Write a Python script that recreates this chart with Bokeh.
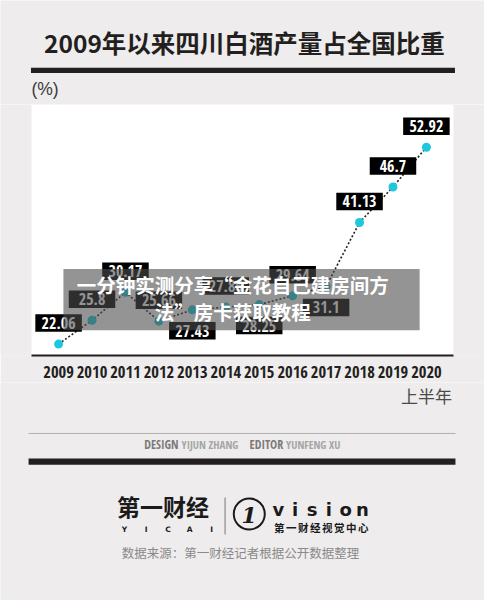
from bokeh.plotting import figure
from bokeh.models import Range1d, Label, FixedTicker, BoxAnnotation
from bokeh.layouts import column
from bokeh.embed import file_html
from bokeh.resources import INLINE
from bokeh.core.properties import value

# ---------------- data ----------------
years = [2009, 2010, 2011, 2012, 2013, 2014, 2015, 2016, 2017, 2018, 2019, 2020]
year_ticks = ["2009", "2010", "2011", "2012", "2013", "2014", "2015", "2016",
              "2017", "2018", "2019", "2020"]
share = [22.06, 25.8, 30.17, 25.66, 27.43, 27.86, 28.25, 29.64, 31.1, 41.13, 46.7, 52.92]
share_labels = ["22.06", "25.8", "30.17", "25.66", "27.43", "27.86", "28.25", "29.64",
                "31.1", "41.13", "46.7", "52.92"]
label_side = [1, 1, 1, 1, -1, 1, -1, 1, -1, 1, 1, 1]   # 1 = box above point, -1 = below

title_text = "2009年以来四川白酒产量占全国比重"
unit_text = "(%)"
last_tick_note = "上半年"
banner_lines = ["一分钟实测分享“金花自己建房间方", "法”房卡获取教程"]
credit_roles = ["DESIGN", "EDITOR"]
credit_names = ["YIJUN ZHANG", "YUNFENG XU"]
brand_cn = "第一财经"
brand_en = ["Y", "I", "C", "A", "I"]
vision_letters = ["v", "i", "s", "i", "o", "n"]
vision_cn = ["第", "一", "财", "经", "视", "觉", "中", "心"]
source_text = "数据来源：第一财经记者根据公开数据整理"

# ---------------- style ----------------
BG = "#eeecec"
INK = "#231f20"
CYAN = "#1ec8dc"
CJK = "Noto Sans CJK SC"
NARROW = "Open Sans Condensed"
W, H = 484, 600
SX, SY = W / 500, H / 616          # reference pixels -> figure pixels


def deco_fig(h):
    f = figure(width=W, height=h, x_range=Range1d(0, W), y_range=Range1d(h, 0),
               output_backend="svg", toolbar_location=None,
               x_axis_location=None, y_axis_location=None, min_border=0)
    f.background_fill_color = BG
    f.border_fill_color = BG
    f.outline_line_color = None
    f.xgrid.visible = False
    f.ygrid.visible = False
    return f


def ax_(px):
    return px * SX


# ---------------- header (reference y 0..107) ----------------
HA = 104
pA = deco_fig(HA)


def ay(py):
    return py * SY


pA.add_layout(Label(x=ax_(252), y=ay(43), text=title_text, text_font=CJK,
                    text_font_style="bold", text_font_size="24.5px", text_color=INK,
                    text_align="center", text_baseline="middle"))
pA.quad(left=[ax_(31.5)], right=[ax_(469.5)], top=[ay(69)], bottom=[ay(74.5)],
        fill_color=INK, line_color=None)
pA.add_layout(Label(x=ax_(32), y=ay(91), text=unit_text, text_font="Liberation Sans",
                    text_font_size="17.5px", text_color="#3a3a3a", text_align="left",
                    text_baseline="middle"))

# ---------------- chart (reference y 107..392) ----------------
SPLIT = 392
HB = round((SPLIT - 107) * SY)
FRAME_H = 251
Y0, Y1 = 20.27, 59.63
X0, X1 = 2007.263, 2021.737
pB = figure(width=W, height=HB, x_range=Range1d(X0, X1), y_range=Range1d(Y0, Y1),
            output_backend="svg", toolbar_location=None, y_axis_location=None,
            min_border_left=0, min_border_right=0, min_border_top=0,
            min_border_bottom=HB - FRAME_H)
pB.background_fill_color = BG
pB.border_fill_color = BG
pB.outline_line_color = None
pB.xgrid.visible = False
pB.ygrid.visible = False


def cx(px):   # reference x -> chart data x
    return X0 + px * SX / W * (X1 - X0)


def cy(py):   # reference y -> chart data y
    return Y1 - (py - 107) / 258 * (Y1 - Y0)


# white plotting panel
pB.quad(left=[cx(32)], right=[cx(468)], top=[Y1], bottom=[Y0], fill_color="white",
        line_color=None)

ppu = FRAME_H / (Y1 - Y0)
box_y = [v + s * 21 / ppu for v, s in zip(share, label_side)]

pB.line(years, share, line_dash="2 2", line_width=1.6, line_color=INK)
pB.rect(x=years, y=box_y, width=46.5, height=17.5, width_units="screen",
        height_units="screen", fill_color="black", line_color=None)
pB.text(x=years, y=box_y, text=share_labels, text_color="white", text_font=value(NARROW),
        text_font_style="bold", text_font_size="16px", text_align="center",
        text_baseline="middle")
pB.scatter(years, share, size=9, fill_color=CYAN, line_color=None)

xa = pB.xaxis[0]
xa.ticker = FixedTicker(ticks=years)
xa.major_label_overrides = {y: t for y, t in zip(years, year_ticks)}
xa.major_label_text_font = NARROW
xa.major_label_text_font_style = "bold"
xa.major_label_text_font_size = "16.5px"
xa.major_label_text_color = INK
xa.axis_line_color = INK
xa.axis_line_width = 2
xa.bounds = (cx(32), cx(468))
xa.major_tick_line_color = None
xa.minor_tick_line_color = None
xa.major_label_standoff = 4

# overlay banner
pB.add_layout(BoxAnnotation(left=cx(65), right=cx(433), top=cy(276), bottom=cy(339),
                            fill_color="#4d4d4d", fill_alpha=0.6, line_color=None))
for i, line in enumerate(banner_lines):
    pB.add_layout(Label(x=cx(240), y=cy(292 + 28 * i), text=line, text_font=CJK,
                        text_font_style="bold", text_font_size="19.5px", text_color="white",
                        text_align="center", text_baseline="middle"))

# ---------------- footer (reference y 392..616) ----------------
HC = H - HA - HB
pC = deco_fig(HC)


def fy(py):
    return (py - SPLIT) * SY


pC.add_layout(Label(x=ax_(440), y=fy(405.5), text=last_tick_note, text_font=CJK,
                    text_font_size="17px", text_color="#4a4a4a", text_align="center",
                    text_baseline="middle"))
pC.segment(x0=[ax_(29)], y0=[fy(444.3)], x1=[ax_(470)], y1=[fy(444.3)],
           line_color="#b0aeae", line_width=1)

role_end_x = [184, 292]
name_start_x = [187, 295]
for role, name, xr, xn in zip(credit_roles, credit_names, role_end_x, name_start_x):
    pC.add_layout(Label(x=ax_(xr), y=fy(456), text=role, text_font=NARROW,
                        text_font_style="bold", text_font_size="12px", text_color="#7a7a7a",
                        text_align="right", text_baseline="middle"))
    pC.add_layout(Label(x=ax_(xn), y=fy(456), text=name, text_font=NARROW,
                        text_font_size="11px", text_color="#a5a5a5",
                        text_align="left", text_baseline="middle"))
pC.quad(left=[ax_(29)], right=[ax_(470)], top=[fy(470)], bottom=[fy(476.5)],
        fill_color=INK, line_color=None)

# logo block
pC.add_layout(Label(x=ax_(168), y=fy(519), text=brand_cn, text_font=CJK,
                    text_font_style="bold", text_font_size="23px", text_color="#1a1a1a",
                    text_align="center", text_baseline="middle"))
pC.text(x=[ax_(128 + 22.5 * i) for i in range(5)], y=[fy(543)] * 5, text=brand_en,
        text_font=value("DejaVu Sans"), text_font_style="bold", text_font_size="7.5px",
        text_color="#1a1a1a", text_align="center", text_baseline="middle")
pC.segment(x0=[ax_(232)], y0=[fy(510)], x1=[ax_(232)], y1=[fy(548)],
           line_color="#777777", line_width=1)
pC.circle(x=[ax_(257)], y=[fy(527)], radius=15.5, fill_color=None, line_color="#1a1a1a",
          line_width=2)
pC.add_layout(Label(x=ax_(257), y=fy(528), text="1", text_font="DejaVu Serif",
                    text_font_style="bold italic", text_font_size="22px",
                    text_color="#1a1a1a", text_align="center", text_baseline="middle"))
pC.text(x=[ax_(287 + 17.4 * i) for i in range(6)], y=[fy(522)] * 6, text=vision_letters,
        text_font=value("DejaVu Sans"), text_font_style="bold", text_font_size="18px",
        text_color="#1a1a1a", text_align="center", text_baseline="middle")
pC.text(x=[ax_(288 + 12.4 * i) for i in range(8)], y=[fy(541)] * 8, text=vision_cn,
        text_font=value(CJK), text_font_style="bold", text_font_size="10.5px",
        text_color="#1a1a1a", text_align="center", text_baseline="middle")
pC.add_layout(Label(x=ax_(248), y=fy(567), text=source_text, text_font=CJK,
                    text_font_size="12.5px", text_color="#8a8a8a", text_align="center",
                    text_baseline="middle"))

layout = column(pA, pB, pC, spacing=0)
open("out.html", "w").write(file_html(layout, INLINE))
